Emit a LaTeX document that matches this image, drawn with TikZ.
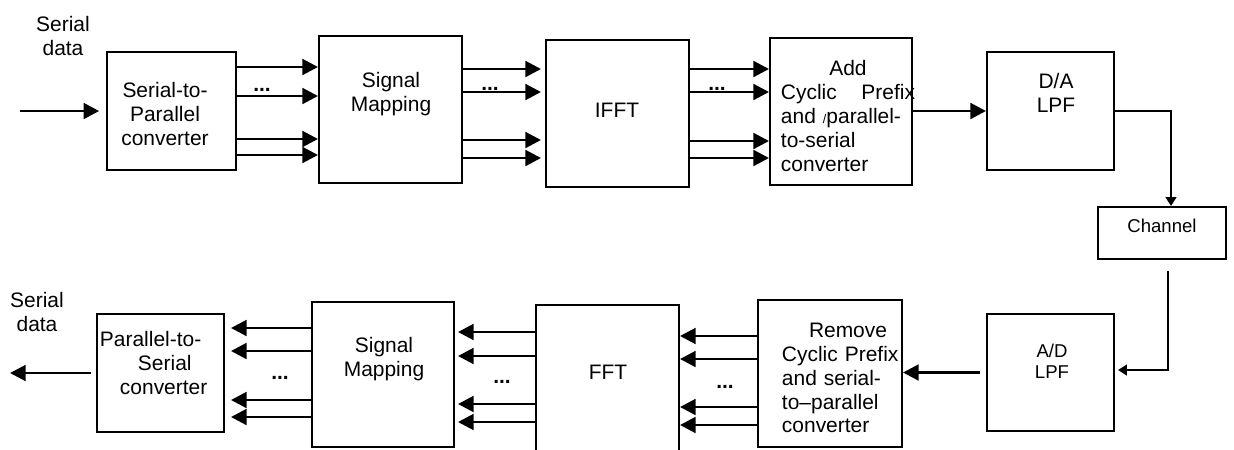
\documentclass[tikz,border=0pt]{standalone}
\usepackage{fontspec}
\setmainfont{Liberation Sans}
\usepackage{tikz}
\usetikzlibrary{arrows.meta,positioning,calc}
\tikzset{
  box/.style={draw,line width=1.35pt,inner sep=0pt},
  txt/.style={align=center,inner sep=0pt,font=\fontsize{14.9}{17}\selectfont},
  smalltxt/.style={align=center,inner sep=0pt,font=\fontsize{13.2}{15}\selectfont},
  dots/.style={inner sep=0pt,font=\fontsize{14.9}{17}\selectfont\bfseries},
  arrow/.style={-{Triangle[length=3.9mm,width=3.9mm]},line width=2.1pt},
  thinarrow/.style={-{Triangle[length=2.2mm,width=2.6mm]},line width=1.7pt}
}

\begin{document}
\begin{tikzpicture}[x=0.025cm,y=-0.025cm]
  \useasboundingbox (0,0) rectangle (1234,449);
  % transmitter chain
  \coordinate (sin) at (20,111);
  \node[box,minimum width=3.225cm,minimum height=2.95cm] (sp) at (171.5,111) {};
  \node[box,minimum width=3.575cm,minimum height=3.675cm] (map) at (390.5,109.5) {};
  \node[box,minimum width=3.575cm,minimum height=3.675cm] (ifft) at (617.5,113.5) {};
  \node[box,minimum width=3.55cm,minimum height=3.675cm] (addcp) at (841,111.5) {};
  \node[box,minimum width=3.175cm,minimum height=2.95cm] (da) at (1050.5,111) {};
  \node[box,minimum width=3.2cm,minimum height=1.3cm] (chan) at (1162,233) {};
  % receiver chain
  \node[box,minimum width=3.175cm,minimum height=2.925cm] (ad) at (1050.5,372.5) {};
  \node[box,minimum width=3.6cm,minimum height=3.675cm] (rmcp) at (830,373.5) {};
  \node[box,minimum width=3.575cm,minimum height=3.8cm] (fft) at (607.5,381) {};
  \node[box,minimum width=3.55cm,minimum height=3.625cm] (demap) at (383,374.5) {};
  \node[box,minimum width=3.175cm,minimum height=2.95cm] (ps) at (160.5,373) {};
  \coordinate (sout) at (10,373);

  \node[txt] (sin-t) at (63,36) {Serial\\data};
  \node[txt] (sp-t) at (165,114) {Serial-to-\\Parallel\\converter};
  \node[txt] (map-t) at (391,94) {Signal\\Mapping};
  \node[txt] (ifft-t) at (617,110) {IFFT};
  \node[txt,align=left,text width=3.35cm] (addcp-t) at (848,116)
    {\hfill Add\hfill\null\\Cyclic\hfill Prefix\\and {\fontsize{9}{9}\selectfont/}parallel-\\to-serial\\converter};
  \node[txt] (da-t) at (1056,93) {D/A\\LPF};
  \node[smalltxt] (chan-t) at (1162,226) {Channel};
  \node[smalltxt] (ad-t) at (1052,361) {A/D\\LPF};
  \node[txt,align=left,text width=3cm] (rmcp-t) at (842,378)
    {\hspace*{0.675cm}Remove\\Cyclic Prefix\\and serial-\\to--parallel\\converter};
  \node[txt] (fft-t) at (608,372) {FFT};
  \node[txt] (demap-t) at (384,359) {Signal\\Mapping};
  \node[txt,align=left,text width=2.75cm] (ps-t) at (155,363)
    {Parallel-to-\\\hspace*{0.95cm}Serial\\\hspace*{0.5cm}converter};
  \node[txt] (sout-t) at (37,312) {Serial\\data};

  \node[dots] (d1) at (262,90) {...};
  \node[dots] (d2) at (490,89) {...};
  \node[dots] (d3) at (717,89) {...};
  \node[dots] (d4) at (725,387) {...};
  \node[dots] (d5) at (502,382) {...};
  \node[dots] (d6) at (280,378) {...};

  \draw[arrow,shorten >=0.17cm] (sin) -- (sp.west);
  \foreach \y in {67,96,139,155} \draw[arrow] (sp.east |- 0,\y) -- (map.west |- 0,\y);
  \foreach \y in {69,92,140,158} \draw[arrow,shorten >=0.1cm] (map.east |- 0,\y) -- (ifft.west |- 0,\y);
  \foreach \y in {69,92,141,158} \draw[arrow] (ifft.east |- 0,\y) -- (addcp.west |- 0,\y);
  \draw[arrow] (addcp.east |- 0,111) -- (da.west |- 0,111);
  \draw[thinarrow] (da.east) -| ([xshift=0.225cm]chan.north);
  \draw[thinarrow,shorten <=0.28cm,shorten >=0.075cm] ([xshift=0.15cm]chan.south) |- (ad.east |- 0,370);
  \draw[arrow,shorten <=0.15cm] (ad.west) -- (rmcp.east |- ad.west);
  \foreach \y in {336,359,407,425} \draw[arrow] (rmcp.west |- 0,\y) -- (fft.east |- 0,\y);
  \foreach \y in {332,356,404,422} \draw[arrow,shorten >=0.075cm] (fft.west |- 0,\y) -- (demap.east |- 0,\y);
  \foreach \y in {328,351,400,417} \draw[arrow,shorten >=0.15cm] (demap.west |- 0,\y) -- (ps.east |- 0,\y);
  \draw[arrow,shorten <=0.12cm] (ps.west) -- (sout);
\end{tikzpicture}
\end{document}
